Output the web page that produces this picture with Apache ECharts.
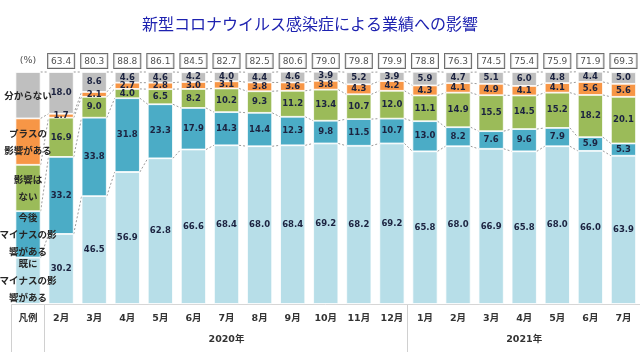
<!DOCTYPE html>
<html><head><meta charset="utf-8">
<script src="https://cdn.jsdelivr.net/npm/echarts@6/dist/echarts.min.js"></script>
<style>html,body{margin:0;padding:0;background:#fff}#c{width:640px;height:360px}</style>
</head><body><div id="c"></div>
<script>
const categories = ['凡例','2月','3月','4月','5月','6月','7月','8月','9月','10月','11月','12月','1月','2月','3月','4月','5月','6月','7月'];
const already = [30.2,46.5,56.9,62.8,66.6,68.4,68.0,68.4,69.2,68.2,69.2,65.8,68.0,66.9,65.8,68.0,66.0,63.9];
const future  = [33.2,33.8,31.8,23.3,17.9,14.3,14.4,12.3,9.8,11.5,10.7,13.0,8.2,7.6,9.6,7.9,5.9,5.3];
const noEffect= [16.9,9.0,4.0,6.5,8.2,10.2,9.3,11.2,13.4,10.7,12.0,11.1,14.9,15.5,14.5,15.2,18.2,20.1];
const plus    = [1.7,2.1,2.7,2.8,3.0,3.1,3.8,3.6,3.8,4.3,4.2,4.3,4.1,4.9,4.1,4.1,5.6,5.6];
const unknown = [18.0,8.6,4.6,4.6,4.2,4.0,4.4,4.6,3.9,5.2,3.9,5.9,4.7,5.1,6.0,4.8,4.4,5.0];
const totals  = [63.4,80.3,88.8,86.1,84.5,82.7,82.5,80.6,79.0,79.8,79.9,78.8,76.3,74.5,75.4,75.9,71.9,69.3];
const seriesNames = ['既にマイナスの影響がある','今後マイナスの影響がある','影響はない','プラスの影響がある','分からない'];
const legendLabels = ['既に\nマイナスの影\n響がある','今後\nマイナスの影\n響がある','影響は\nない','プラスの\n影響がある','分からない'];
const legendShare = 20;
const years = ['2020年','2021年'];
const yearCenterIndex = [6, 15];
const unitLabel = '(%)';
const titleText = '新型コロナウイルス感染症による業績への影響';

const colors = ['#B7DEE8','#4BACC6','#9BBB59','#F79646','#BFBFBF'];
const numFont = 'DejaVu Sans';
const jpFont = 'Noto Sans CJK JP';
const layers = [already, future, noEffect, plus, unknown];

// cumulative boundaries per category (legend column first)
const cum = categories.map((c, i) => {
  let s = 0; const out = [];
  for (let k = 0; k < 5; k++) { s += (i === 0 ? legendShare : layers[k][i-1]); out.push(s); }
  return out;
});

const barRatio = 0.76;
const chart = echarts.init(document.getElementById('c'));
const barSeries = layers.map((arr, k) => ({
  name: seriesNames[k], type: 'bar', stack: 'all', barWidth: (barRatio*100)+'%',
  itemStyle: {color: colors[k], borderColor: '#fff', borderWidth: 0.8},
  label: {show: true, position: 'inside', color: '#1c2340', fontFamily: numFont, fontWeight: 'bold', fontSize: 8.5,
          formatter: p => p.value.toFixed(1)},
  data: [{value: legendShare, label: {formatter: legendLabels[k], fontFamily: jpFont, fontSize: 9.5, fontWeight: 'bold', lineHeight: 17, color: '#262626'}}]
        .concat(arr.map(v => v))
}));

const topSeries = {
  type: 'scatter', symbolSize: 0.1, itemStyle: {color: 'transparent'}, silent: true, clip: false,
  label: {show: true, position: 'top', distance: 4, fontFamily: numFont, fontSize: 9, color: '#222',
          backgroundColor: '#fff', borderColor: '#444', borderWidth: 1, padding: [3,3,2,3],
          formatter: p => p.value[2]},
  labelLayout: {hideOverlap: false},
  data: categories.map((c, i) => i === 0
    ? {value: [i, 100, unitLabel], label: {backgroundColor: 'transparent', borderWidth: 0, fontSize: 9.5}}
    : [i, 100, totals[i-1].toFixed(1)])
};

const connectorSeries = {
  type: 'custom', silent: true, z: 1, clip: false,
  renderItem: (params, api) => {
    const i = api.value(0);
    if (i >= categories.length - 1) return null;
    const half = api.size([1, 0])[0] * barRatio / 2;
    const children = [];
    for (let k = 0; k < 5; k++) {
      const p1 = api.coord([i, cum[i][k]]);
      const p2 = api.coord([i+1, cum[i+1][k]]);
      children.push({type: 'line', shape: {x1: p1[0]+half, y1: p1[1], x2: p2[0]-half, y2: p2[1]},
        style: {stroke: '#9a9a9a', lineWidth: 1, lineDash: [2, 2]}});
    }
    return {type: 'group', children};
  },
  encode: {x: 0, y: 1},
  data: categories.map((c, i) => [i, 0])
};

chart.setOption({
  animation: false,
  title: {text: titleText, left: 137, top: 11, textStyle: {color: '#1E22B0', fontSize: 16, fontWeight: 'normal', fontFamily: jpFont}},
  grid: {left: 11.5, right: 0, top: 72, bottom: 56},
  xAxis: [{
    type: 'category', data: categories, axisTick: {show: false},
    axisLine: {lineStyle: {color: '#d6d6d6'}},
    axisLabel: {interval: 0, margin: 10, color: '#333', fontSize: 9.5, fontWeight: 'bold', fontFamily: numFont + ', ' + jpFont}
  }, {
    type: 'category', data: categories, position: 'bottom', gridIndex: 0,
    axisTick: {show: false}, axisLine: {show: false},
    axisLabel: {interval: 0, margin: 31, color: '#333', fontSize: 9.5, fontWeight: 'bold', fontFamily: numFont + ', ' + jpFont,
      formatter: (v, i) => { const j = yearCenterIndex.indexOf(i); return j >= 0 ? years[j] : ''; }}
  }],
  yAxis: {type: 'value', min: 0, max: 100, show: false},
  series: [connectorSeries].concat(barSeries).concat([topSeries])
});

// table separators under the axis, placed from the axis scale
const c0 = chart.convertToPixel({xAxisIndex: 0}, 0);
const c1 = chart.convertToPixel({xAxisIndex: 0}, 1);
const step = c1 - c0;
const yBase = chart.convertToPixel({yAxisIndex: 0}, 0);
const sepIdx = [-0.5, 0.5, 11.5];
chart.setOption({graphic: sepIdx.map(s => ({
  type: 'line', silent: true,
  shape: {x1: Math.round(c0 + s*step)-0.5, y1: yBase, x2: Math.round(c0 + s*step)-0.5, y2: yBase + 48},
  style: {stroke: '#d0d0d0', lineWidth: 1}
}))});
</script></body></html>
